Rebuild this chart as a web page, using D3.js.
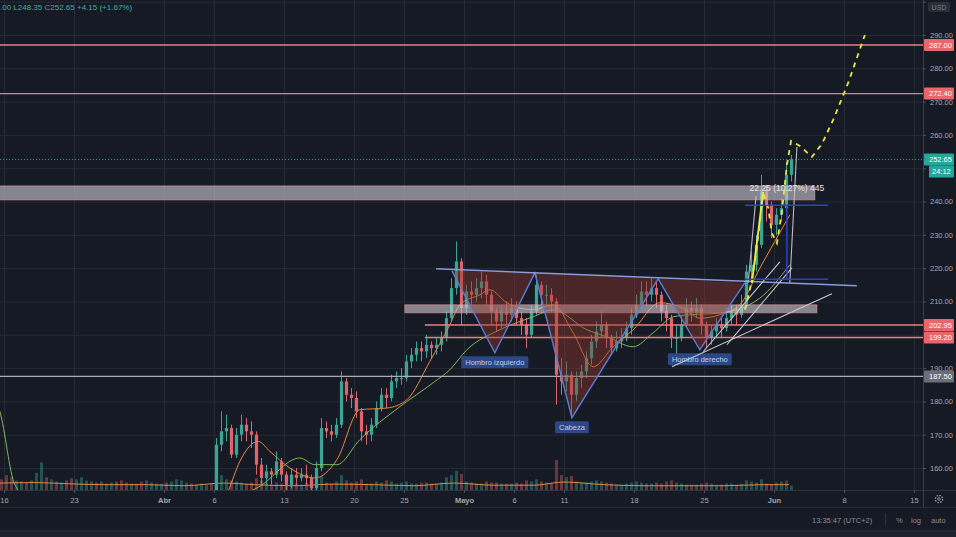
<!doctype html>
<html lang="es">
<head>
<meta charset="utf-8">
<title>ETH/USD - HCH invertido</title>
<script src="https://cdn.jsdelivr.net/npm/d3@7"></script>
<style>
  body { margin: 0; background: #161a25; overflow: hidden; }
  svg { display: block; font-family: "Liberation Sans", Arial, sans-serif; }
  .axis text { fill: #a3a6af; font-size: 7.5px; }
</style>
</head>
<body>
<svg id="chart" width="956" height="537"></svg>
<script>
// ---- data (half-day candles, starting 15 Mar 2020 00:00 UTC) ----
var firstOpen = 126;
var closes = [
  125,124, 112,110, 113,117, 116,118, 128,135, 128,132, 131,131, 128,122, 130,135, 137,138, 134,136,
  137,138, 134,131, 128,131, 129,125, 130,132, 133,133, 131,136, 141,141, 142,141, 143,144,
  144,143, 167,171, 172,164, 170,173, 171,170, 161,157, 159,158, 162,158, 155,158, 157,158, 157,154,
  160,172, 171,170, 173,186, 182,181, 177,171, 170,173, 178,182, 181,186, 187,187, 192,194, 196,195,
  197,196, 197,199, 205,214, 222,208,
  213,212, 214,216, 212,207, 204,207, 206,208, 205,203, 200,207, 215,212, 212,210, 188,186, 188,182,
  187,189, 193,198, 201,203, 199,196, 198,199, 202,206, 209,213, 212,214, 212,207, 205,199, 199,203,
  208,207, 208,203, 199,201, 203,202, 205,207, 206,209, 219,221, 227,243, 239,233,
  236,238, 248,252.65
];
var highs = [
  128,127, 125,115, 118,120, 119,121, 136,138, 136,134, 134,134, 132,130, 135,137, 140,140, 138,138,
  140,140, 138,135, 132,133, 132,130, 133,134, 136,135, 134,138, 144,145, 145,144, 146,146,
  146,145, 169,177, 176,173, 172,176, 175,174, 171,163, 161,160, 165,163, 159,160, 160,160, 161,158,
  162,175, 174,173, 175,189, 187,184, 183,178, 173,175, 180,184, 184,188, 189,190, 194,196, 198,198,
  200,198, 199,201, 207,217, 228,223,
  215,216, 217,219, 218,213, 208,209, 210,211, 210,207, 205,209, 218,216, 215,214, 211,193, 192,189,
  189,191, 195,200, 204,207, 204,200, 201,202, 204,208, 212,216, 216,217, 216,213, 209,206, 203,206,
  211,210, 211,209, 204,203, 205,205, 208,209, 209,212, 221,225, 230,248, 245,240,
  238,241, 252,254
];
var lows = [
  120,119, 108,106, 108,111, 112,113, 115,126, 124,127, 128,127, 121,118, 121,129, 132,134, 130,132,
  133,134, 129,127, 124,127, 124,121, 124,128, 129,130, 128,130, 135,138, 138,137, 139,140,
  141,140, 142,165, 168,163, 163,168, 168,166, 158,155, 155,155, 157,156, 153,154, 155,156, 155,152,
  153,159, 169,168, 169,172, 180,178, 175,168, 167,168, 172,177, 178,180, 184,185, 186,190, 192,192,
  193,193, 194,195, 198,204, 212,203,
  206,209, 210,211, 209,203, 201,202, 203,204, 203,200, 196,199, 206,209, 209,207, 179,182, 183,175,
  180,184, 187,191, 196,199, 196,194, 195,196, 198,200, 205,208, 209,210, 208,204, 201,196, 192,198,
  202,204, 205,200, 196,197, 199,199, 201,203, 203,205, 208,216, 219,226, 234,229,
  230,234, 237,246
];
var volumes = [
  8,10, 14,12, 9,8, 7,9, 16,26, 12,10, 8,7, 9,11, 10,12, 9,8, 7,8, 6,7, 8,9, 7,6, 6,8, 9,7, 6,6,
  7,8, 10,9, 7,6, 5,6,
  5,6, 20,14, 10,9, 8,7, 6,7, 11,9, 6,5, 7,6, 9,7, 6,5, 7,6, 16,13, 7,6, 8,14, 9,7, 8,10, 6,6, 8,7,
  9,8, 6,7, 8,6, 6,7, 7,6, 6,7, 12,14, 18,15,
  8,7, 6,6, 8,7, 7,6, 6,6, 7,6, 9,8, 10,8, 7,6, 28,14, 12,13, 8,7, 7,8, 9,8, 7,6, 5,5, 6,7, 8,7,
  6,6, 7,6, 8,9, 7,6, 5,5, 5,6, 7,6, 5,5, 6,6, 5,6, 9,8, 7,10, 6,5,
  7,8, 9,4
];
var volMa = [
  ["2020-03-14 00:00", 6], ["2020-03-19 00:00", 7], ["2020-03-22 00:00", 6], ["2020-03-26 00:00", 5],
  ["2020-03-30 00:00", 5], ["2020-04-03 00:00", 4], ["2020-04-07 00:00", 6.5], ["2020-04-10 00:00", 5],
  ["2020-04-14 00:00", 4], ["2020-04-18 00:00", 5.5], ["2020-04-22 00:00", 5], ["2020-04-26 00:00", 4],
  ["2020-04-30 00:00", 6.5], ["2020-05-04 00:00", 4.5], ["2020-05-08 00:00", 4.5], ["2020-05-11 00:00", 7.5],
  ["2020-05-15 00:00", 5], ["2020-05-19 00:00", 4], ["2020-05-23 00:00", 4], ["2020-05-27 00:00", 4],
  ["2020-05-31 00:00", 5], ["2020-06-02 12:00", 5]
];
var fastMa = [
  ["2020-04-05 00:00", 140], ["2020-04-07 10:00", 153], ["2020-04-08 14:00", 162], ["2020-04-10 10:00", 168],
  ["2020-04-11 14:00", 165], ["2020-04-13 14:00", 160], ["2020-04-16 02:00", 157], ["2020-04-18 07:00", 162.5],
  ["2020-04-20 14:00", 177.5], ["2020-04-23 07:00", 178], ["2020-04-25 07:00", 180.5], ["2020-04-27 14:00", 192],
  ["2020-04-29 14:00", 203], ["2020-04-30 14:00", 209], ["2020-05-02 14:00", 212], ["2020-05-03 14:00", 213.5],
  ["2020-05-05 07:00", 209.6], ["2020-05-07 22:00", 207.5], ["2020-05-09 22:00", 209], ["2020-05-11 22:00", 200.6],
  ["2020-05-13 22:00", 190.4], ["2020-05-15 22:00", 196.4], ["2020-05-17 22:00", 201.5], ["2020-05-20 14:00", 209.6],
  ["2020-05-22 22:00", 208], ["2020-05-24 14:00", 205], ["2020-05-26 14:00", 206], ["2020-05-28 14:00", 209],
  ["2020-05-30 14:00", 220], ["2020-06-02 14:00", 236]
];
var slowMa = [
  ["2020-03-14 00:00", 185], ["2020-03-15 14:00", 177], ["2020-03-17 02:00", 155], ["2020-03-24 00:00", 136],
  ["2020-04-01 00:00", 140], ["2020-04-07 14:00", 150], ["2020-04-10 14:00", 154.5], ["2020-04-14 14:00", 163],
  ["2020-04-16 02:00", 161], ["2020-04-18 07:00", 161], ["2020-04-20 14:00", 168.5], ["2020-04-24 14:00", 178.4],
  ["2020-04-27 22:00", 185.6], ["2020-04-29 14:00", 189.5], ["2020-05-01 07:00", 195.5], ["2020-05-04 14:00", 201.5],
  ["2020-05-07 22:00", 205.4], ["2020-05-09 22:00", 207.5], ["2020-05-13 07:00", 201.5], ["2020-05-15 07:00", 199.4],
  ["2020-05-17 22:00", 196.4], ["2020-05-19 22:00", 200.6], ["2020-05-21 22:00", 205.4], ["2020-05-23 14:00", 206],
  ["2020-05-26 14:00", 206.5], ["2020-05-30 14:00", 211], ["2020-06-02 14:00", 221]
];

// axes
var priceTicks = [160, 170, 180, 190, 200, 210, 220, 230, 240, 250, 260, 270, 280, 290, 300];
var hiddenTickLabels = [200, 250, 300]; // covered by price tags / USD badge
var dateTickStr = ["2020-03-16", "2020-03-23", "2020-04-01", "2020-04-06", "2020-04-13", "2020-04-20", "2020-04-25",
  "2020-05-01", "2020-05-06", "2020-05-11", "2020-05-18", "2020-05-25", "2020-06-01", "2020-06-08", "2020-06-15"];
var dateLabels = ["16", "23", "Abr", "6", "13", "20", "25", "Mayo", "6", "11", "18", "25", "Jun", "8", "15"];

// drawings
var fullLines = [287, 272.4];
var halfLines = [202.95, 199.2];
var halfLineStart = "2020-04-27 02:00";
var supportLine = 187.5;
var lastPrice = 252.65, countdown = "24:12";
var zoneFrom = ["2020-03-10 00:00", "2020-04-25 02:00"];
var zoneTo = ["2020-06-05 02:00", "2020-06-05 07:00"];
var zoneTop = [244.7, 209.0];
var zoneBottom = [240.5, 206.6];
var hsPoints = [
  ["2020-04-29 19:00", 219.2], ["2020-05-04 02:00", 194.6], ["2020-05-08 02:00", 218.6],
  ["2020-05-11 19:00", 175.1], ["2020-05-20 10:00", 216.8], ["2020-05-24 14:00", 195.5],
  ["2020-05-29 02:00", 215.6]
];
var hsLabels = ["Hombro izquierdo", "Cabeza", "Hombro derecho"];
var neckline = [["2020-04-28 05:00", 219.8], ["2020-06-09 07:00", 214.7]];
var trendLines = [
  [["2020-05-21 19:00", 190.4], ["2020-06-06 19:00", 212.3]],
  [["2020-05-24 22:00", 194.9], ["2020-06-01 14:00", 221.9]],
  [["2020-05-27 07:00", 197.0], ["2020-06-02 19:00", 220.1]]
];
var poleLines = [
  [["2020-05-29 10:00", 215.6], ["2020-05-30 05:00", 241.7]],
  [["2020-06-02 14:00", 215.6], ["2020-06-03 07:00", 256.4]]
];
var yellowPole = [["2020-05-29 19:00", 215.6], ["2020-05-30 22:00", 242.9]];
var projection = [
  ["2020-05-29 02:00", 207.5], ["2020-05-29 14:00", 213.5], ["2020-05-30 02:00", 221.9], ["2020-05-30 12:00", 231.5],
  ["2020-05-30 22:00", 242.6], ["2020-05-31 10:00", 238.1], ["2020-05-31 19:00", 230.5], ["2020-06-01 07:00", 227.5],
  ["2020-06-01 19:00", 237], ["2020-06-02 07:00", 251], ["2020-06-02 17:00", 258.2], ["2020-06-03 14:00", 256.7],
  ["2020-06-04 19:00", 253.4], ["2020-06-05 19:00", 257.3], ["2020-06-06 22:00", 264.5], ["2020-06-08 10:00", 275.6],
  ["2020-06-10 02:00", 290]
];
var rangeFrom = "2020-05-29 02:00", rangeTo = "2020-06-06 10:00", rangeAt = "2020-06-02 07:00";
var rangeLow = 216.65, rangeHigh = 238.9;
var rangeText = "22.25 (10.27%) 445";
var headerText = ".00 L248.35 C252.65 +4.15 (+1.67%)";

// ---- chart ----
var W = 956, H = 537, plotRight = 923, plotBottom = 490;
var HALF = 12 * 3600 * 1000;
var T0 = Date.UTC(2020, 2, 15);
var up = "#3aa597", down = "#e0646c";
var parseTime = d3.utcParse("%Y-%m-%d %H:%M");
var parseDay = d3.utcParse("%Y-%m-%d");

var x = d3.scaleUtc()
  .domain([parseDay("2020-03-16"), parseDay("2020-06-15")])
  .range([4, 914]);
var y = d3.scaleLinear().domain([160, 290]).range([468, 35]);
var vy = d3.scaleLinear().domain([0, 30]).range([plotBottom, plotBottom - 32]);

var px = function(p) { return x(parseTime(p[0])); };
var py = function(p) { return y(p[1]); };
var line = d3.line().x(px).y(py);

var svg = d3.select("#chart");
svg.append("rect").attr("width", W).attr("height", H).attr("fill", "#161a25");
svg.append("defs").append("clipPath").attr("id", "plot")
  .append("rect").attr("width", plotRight).attr("height", plotBottom);

// grid
svg.append("g")
  .attr("transform", "translate(0," + plotBottom + ")")
  .call(d3.axisBottom(x).tickValues(dateTickStr.map(parseDay)).tickSize(-plotBottom).tickFormat(""))
  .call(function(g) { g.select(".domain").remove(); })
  .selectAll("line").attr("stroke", "#262a35");
svg.append("g")
  .call(d3.axisLeft(y).tickValues(priceTicks).tickSize(-plotRight).tickFormat(""))
  .call(function(g) { g.select(".domain").remove(); })
  .selectAll("line").attr("stroke", "#262a35");

var candles = closes.map(function(c, i) {
  return { t: new Date(T0 + i * HALF + HALF / 2), o: i ? closes[i - 1] : firstOpen,
           h: highs[i], l: lows[i], c: c, v: volumes[i] };
});

var plot = svg.append("g").attr("clip-path", "url(#plot)");

// volume
plot.selectAll(".vol").data(candles).enter().append("rect")
  .attr("x", function(d) { return x(d.t) - 1.5; })
  .attr("width", 3)
  .attr("y", function(d) { return vy(d.v); })
  .attr("height", function(d) { return plotBottom - vy(d.v); })
  .attr("fill", function(d) { return d.c >= d.o ? up : down; })
  .attr("opacity", 0.4);
plot.append("path")
  .attr("d", d3.line().curve(d3.curveMonotoneX)
    .x(px).y(function(d) { return vy(d[1]); })(volMa))
  .attr("fill", "none").attr("stroke", "#e0883c").attr("stroke-width", 1);

// candles
var cg = plot.selectAll(".candle").data(candles).enter().append("g");
cg.append("line")
  .attr("x1", function(d) { return x(d.t); })
  .attr("x2", function(d) { return x(d.t); })
  .attr("y1", function(d) { return y(d.h); })
  .attr("y2", function(d) { return y(d.l); })
  .attr("stroke", function(d) { return d.c >= d.o ? up : down; })
  .attr("stroke-width", 1);
cg.append("rect")
  .attr("x", function(d) { return x(d.t) - 1.6; })
  .attr("width", 3.2)
  .attr("y", function(d) { return y(Math.max(d.o, d.c)); })
  .attr("height", function(d) { return Math.max(1, Math.abs(y(d.o) - y(d.c))); })
  .attr("fill", function(d) { return d.c >= d.o ? up : down; });

// moving averages
var maLine = d3.line().curve(d3.curveMonotoneX).x(px).y(py);
plot.append("path").attr("d", maLine(slowMa))
  .attr("fill", "none").attr("stroke", "#7fb85a").attr("stroke-width", 1);
plot.append("path").attr("d", maLine(fastMa))
  .attr("fill", "none").attr("stroke", "#ec8636").attr("stroke-width", 1);

// zones
zoneTop.forEach(function(top, i) {
  var x0 = x(parseTime(zoneFrom[i])), x1 = x(parseTime(zoneTo[i]));
  plot.append("rect")
    .attr("x", x0).attr("width", x1 - x0)
    .attr("y", y(top)).attr("height", y(zoneBottom[i]) - y(top))
    .attr("fill", "rgba(200,200,206,0.62)")
    .attr("stroke", "rgba(235,150,150,0.6)").attr("stroke-width", 1);
});

// horizontal levels
fullLines.forEach(function(v) {
  plot.append("line").attr("x1", 0).attr("x2", plotRight).attr("y1", y(v)).attr("y2", y(v))
    .attr("stroke", "#f07b80").attr("stroke-width", 1.4);
});
halfLines.forEach(function(v) {
  plot.append("line").attr("x1", x(parseTime(halfLineStart))).attr("x2", plotRight)
    .attr("y1", y(v)).attr("y2", y(v))
    .attr("stroke", "#f07b80").attr("stroke-width", 1.4);
});
plot.append("line").attr("x1", 0).attr("x2", plotRight)
  .attr("y1", y(supportLine)).attr("y2", y(supportLine))
  .attr("stroke", "#a9acb3").attr("stroke-width", 1.2);

// head & shoulders
[[0, 1, 2], [2, 3, 4], [4, 5, 6]].forEach(function(tri) {
  plot.append("path")
    .attr("d", line(tri.map(function(k) { return hsPoints[k]; })) + "Z")
    .attr("fill", "rgba(150,55,45,0.42)");
});
plot.append("path").attr("d", line(hsPoints))
  .attr("fill", "none").attr("stroke", "#5e7bd2").attr("stroke-width", 1.4);
plot.append("path").attr("d", line(neckline))
  .attr("fill", "none").attr("stroke", "#8a9bd8").attr("stroke-width", 1.4);
[1, 3, 5].forEach(function(k, i) {
  var cx = px(hsPoints[k]), top = py(hsPoints[k]) + 3.5;
  var g = plot.append("g");
  var t = g.append("text").attr("x", cx).attr("y", top + 8.5)
    .attr("text-anchor", "middle").attr("fill", "#c5cde8").attr("font-size", "7.5px")
    .text(hsLabels[i]);
  var w = t.node().getComputedTextLength() + 8;
  g.insert("rect", "text").attr("x", cx - w / 2).attr("y", top).attr("width", w).attr("height", 12)
    .attr("rx", 1.5).attr("fill", "#2b4786");
});

// trend lines
trendLines.forEach(function(l) {
  plot.append("path").attr("d", line(l)).attr("stroke", "#c8cad0").attr("stroke-width", 1.1);
});
poleLines.forEach(function(l) {
  plot.append("path").attr("d", line(l)).attr("stroke", "#b9bcc3").attr("stroke-width", 1.1);
});
plot.append("path").attr("d", line(yellowPole)).attr("stroke", "#f2ee4a").attr("stroke-width", 1.8);
plot.append("path").attr("d", line(projection))
  .attr("fill", "none").attr("stroke", "#e9e63c").attr("stroke-width", 1.8)
  .attr("stroke-dasharray", "5 5");

// price range tool
var rx0 = x(parseTime(rangeFrom)), rx1 = x(parseTime(rangeTo)), rxm = x(parseTime(rangeAt));
[rangeLow, rangeHigh].forEach(function(v) {
  plot.append("line").attr("x1", rx0).attr("x2", rx1).attr("y1", y(v)).attr("y2", y(v))
    .attr("stroke", "#2b43c8").attr("stroke-width", 1.5);
});
plot.append("line").attr("x1", rxm).attr("x2", rxm).attr("y1", y(rangeHigh)).attr("y2", y(rangeLow))
  .attr("stroke", "#2b43c8").attr("stroke-width", 1.5);
plot.append("text").attr("x", rxm).attr("y", y(rangeHigh) - 14)
  .attr("text-anchor", "middle").attr("fill", "#e6e6ea").attr("font-size", "8.5px")
  .text(rangeText);

// last price dotted line
plot.append("line").attr("x1", 0).attr("x2", plotRight).attr("y1", y(lastPrice)).attr("y2", y(lastPrice))
  .attr("stroke", "#26a69a").attr("stroke-width", 1).attr("stroke-dasharray", "1 2");

// bottom panes
svg.append("rect").attr("x", 0).attr("y", plotBottom).attr("width", W).attr("height", H - plotBottom)
  .attr("fill", "#161a25");
svg.append("line").attr("x1", 0).attr("x2", W).attr("y1", plotBottom + 0.5).attr("y2", plotBottom + 0.5)
  .attr("stroke", "#2f3340");
svg.append("line").attr("x1", 0).attr("x2", W).attr("y1", 507.5).attr("y2", 507.5)
  .attr("stroke", "#262a35");
svg.append("rect").attr("x", 0).attr("y", 531).attr("width", W).attr("height", 6).attr("fill", "#1d212c");
svg.append("line").attr("x1", 0).attr("x2", W).attr("y1", 531).attr("y2", 531).attr("stroke", "#2f3340");
svg.append("line").attr("x1", plotRight + 0.5).attr("x2", plotRight + 0.5).attr("y1", 0).attr("y2", 507)
  .attr("stroke", "#3a3e4a");

// date axis
var xAxis = svg.append("g").attr("class", "axis")
  .attr("transform", "translate(0," + plotBottom + ")")
  .call(d3.axisBottom(x).tickValues(dateTickStr.map(parseDay)).tickSize(3).tickPadding(5)
    .tickFormat(function(d, i) { return dateLabels[i]; }));
xAxis.select(".domain").remove();
xAxis.selectAll("line").attr("stroke", "#4a4e5a");
xAxis.selectAll("text")
  .attr("font-weight", function(d, i) { return isNaN(+dateLabels[i]) ? "bold" : null; })
  .attr("fill", function(d, i) { return isNaN(+dateLabels[i]) ? "#c3c6ce" : "#a3a6af"; });

// price axis
var yAxis = svg.append("g").attr("class", "axis")
  .attr("transform", "translate(" + plotRight + ",0)")
  .call(d3.axisRight(y).tickValues(priceTicks).tickSize(3).tickPadding(4).tickFormat(d3.format(".2f")));
yAxis.select(".domain").remove();
yAxis.selectAll("line").attr("stroke", "#4a4e5a");
yAxis.selectAll(".tick text").filter(function(d) { return hiddenTickLabels.indexOf(d) >= 0; }).remove();

function tag(v, label, bg, x0, dy) {
  var yy = y(v) + (dy || 0);
  svg.append("rect").attr("x", x0).attr("y", yy - 6).attr("width", 954 - x0).attr("height", 12)
    .attr("rx", 1).attr("fill", bg);
  svg.append("text").attr("x", x0 + (x0 > 925 ? 3 : 5)).attr("y", yy + 2.8)
    .attr("fill", "#ffffff").attr("font-size", "7.5px").text(label);
}
fullLines.forEach(function(v) { tag(v, d3.format(".2f")(v), "#e8676d", 924); });
halfLines.forEach(function(v) { tag(v, d3.format(".2f")(v), "#e8676d", 924); });
tag(supportLine, d3.format(".2f")(supportLine), "#6b6e78", 924);
tag(lastPrice, d3.format(".2f")(lastPrice), "#26a69a", 924);
tag(lastPrice, countdown, "#26a69a", 929, 12);

// header and misc texts
svg.append("text").attr("x", 0).attr("y", 10).attr("fill", "#3fb0a2").attr("font-size", "8px")
  .text(headerText);
svg.append("rect").attr("x", 928).attr("y", 2).attr("width", 22).attr("height", 10).attr("rx", 2)
  .attr("fill", "#2a2e39");
svg.append("text").attr("x", 939).attr("y", 10).attr("text-anchor", "middle")
  .attr("fill", "#787b86").attr("font-size", "7px").text("USD");

var foot = [["13:35:47 (UTC+2)", 812], ["%", 896], ["log", 911], ["auto", 931]];
foot.forEach(function(f) {
  svg.append("text").attr("x", f[1]).attr("y", 523).attr("fill", "#8a8d96").attr("font-size", "7.5px")
    .text(f[0]);
});
svg.append("line").attr("x1", 885.5).attr("x2", 885.5).attr("y1", 513).attr("y2", 526).attr("stroke", "#2f3340");
svg.append("circle").attr("cx", 939).attr("cy", 499).attr("r", 3.6)
  .attr("fill", "none").attr("stroke", "#9598a1").attr("stroke-width", 1.3).attr("stroke-dasharray", "1.6 1.2");
svg.append("circle").attr("cx", 939).attr("cy", 499).attr("r", 1.3)
  .attr("fill", "none").attr("stroke", "#9598a1").attr("stroke-width", 0.9);
</script>
</body>
</html>
